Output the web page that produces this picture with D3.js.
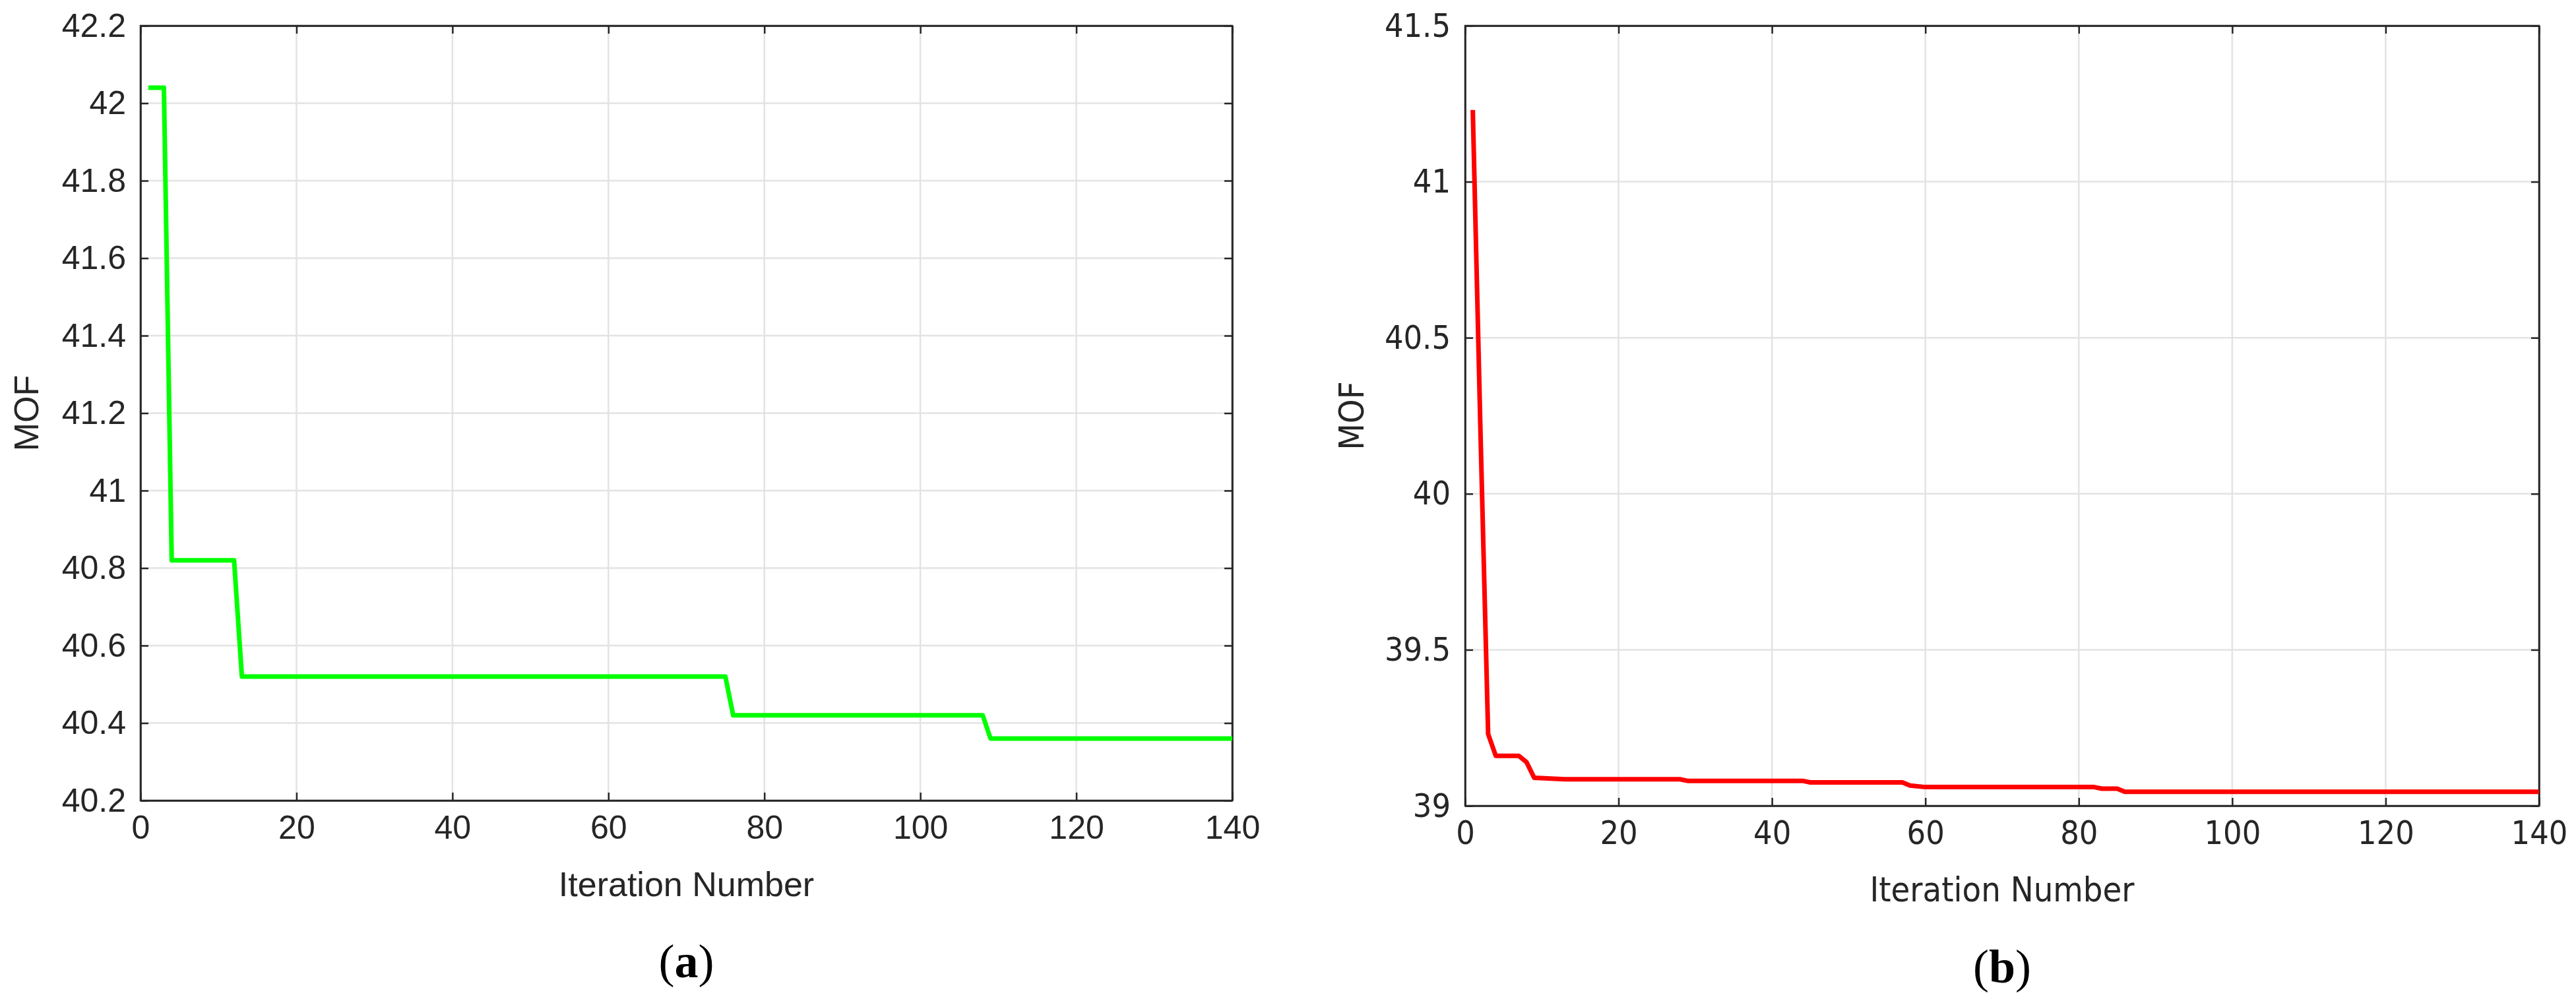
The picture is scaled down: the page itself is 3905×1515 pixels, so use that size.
<!DOCTYPE html>
<html><head><meta charset="utf-8">
<script src="https://cdn.jsdelivr.net/npm/d3@7"></script>
<style>
body{margin:0;background:#fff}
.tick text{fill:#262626}
</style></head>
<body><svg id="c" width="3905" height="1515"></svg>
<script>
// panel (a) – green step curve
var xA = [1, 3, 4, 12, 13, 75, 76, 108, 109, 140];
var yA = [42.04, 42.04, 40.82, 40.82, 40.52, 40.52, 40.42, 40.42, 40.36, 40.36];
// panel (b) – red curve
var xB = [1, 2, 3, 4, 7, 8, 9, 13, 28, 29, 44, 45, 57, 58, 60, 82, 83, 85, 86, 140];
var yB = [41.23, 40.2, 39.23, 39.16, 39.16, 39.14, 39.09, 39.085, 39.085, 39.08, 39.08, 39.075, 39.075, 39.065, 39.06, 39.06, 39.055, 39.055, 39.045, 39.045];
var xTicks = [0, 20, 40, 60, 80, 100, 120, 140];
var yTicksA = [40.2, 40.4, 40.6, 40.8, 41, 41.2, 41.4, 41.6, 41.8, 42, 42.2];
var yTicksB = [39, 39.5, 40, 40.5, 41, 41.5];

var svg = d3.select('#c');
var fmt = d3.format('~g');

function panel(o) {
    var x = d3.scaleLinear().domain([0, 140]).range([o.left, o.right]),
        y = d3.scaleLinear().domain(o.ydom).range([o.bottom, o.top]);
    var g = svg.append('g');

    // grid
    g.selectAll('.gx').data(xTicks).enter().append('line')
        .attr('x1', x).attr('x2', x).attr('y1', o.top).attr('y2', o.bottom)
        .attr('stroke', '#e3e3e3').attr('stroke-width', 2.5);
    g.selectAll('.gy').data(o.yticks).enter().append('line')
        .attr('y1', y).attr('y2', y).attr('x1', o.left).attr('x2', o.right)
        .attr('stroke', '#e3e3e3').attr('stroke-width', 2.5);

    var font = o.font, fs = 50;
    var ax = [
        [d3.axisBottom(x).tickValues(xTicks).tickFormat(fmt).tickSizeInner(-12).tickSizeOuter(0).tickPadding(22), 'translate(0,' + o.bottom + ')', true],
        [d3.axisTop(x).tickValues(xTicks).tickSizeInner(-12).tickSizeOuter(0), 'translate(0,' + o.top + ')', false],
        [d3.axisLeft(y).tickValues(o.yticks).tickFormat(fmt).tickSizeInner(-12).tickSizeOuter(0).tickPadding(22), 'translate(' + o.left + ',0)', true],
        [d3.axisRight(y).tickValues(o.yticks).tickSizeInner(-12).tickSizeOuter(0), 'translate(' + o.right + ',0)', false]
    ];
    ax.forEach(function(a) {
        var ag = g.append('g').attr('transform', a[1]).call(a[0]);
        ag.selectAll('path,line').attr('stroke', '#262626').attr('stroke-width', 2.5);
        ag.selectAll('text').attr('font-family', font).attr('font-size', fs);
        if (!a[2]) ag.selectAll('text').remove();
    });
    g.append('rect').attr('x', o.left).attr('y', o.top)
        .attr('width', o.right - o.left).attr('height', o.bottom - o.top)
        .attr('fill', 'none').attr('stroke', '#262626').attr('stroke-width', 2.5);

    var line = d3.line().x(function(d) { return x(d[0]); }).y(function(d) { return y(d[1]); });
    g.append('path').datum(d3.zip(o.xs, o.ys)).attr('d', line)
        .attr('fill', 'none').attr('stroke', o.color).attr('stroke-width', 7)
        .attr('stroke-linejoin', 'round');

    g.append('text').attr('x', (o.left + o.right) / 2).attr('y', o.bottom + 145)
        .attr('text-anchor', 'middle').attr('font-family', font).attr('font-size', 52)
        .attr('fill', '#262626').text('Iteration Number');
    g.append('text').attr('transform', 'translate(' + o.ylabX + ',' + (o.top + o.bottom) / 2 + ') rotate(-90)')
        .attr('text-anchor', 'middle').attr('font-family', font).attr('font-size', 52)
        .attr('fill', '#262626').text('MOF');
    var cap = g.append('text').attr('x', (o.left + o.right) / 2).attr('y', o.bottom + 268)
        .attr('text-anchor', 'middle').attr('font-family', 'Liberation Serif, serif')
        .attr('font-size', 72).attr('fill', '#000');
    cap.append('tspan').text('(');
    cap.append('tspan').attr('font-weight', 'bold').text(o.cap);
    cap.append('tspan').text(')');
}

panel({left: 213, right: 1868, top: 39, bottom: 1214, ydom: [40.2, 42.2], yticks: yTicksA,
       xs: xA, ys: yA, color: '#00ff00', font: 'Liberation Sans, Arial, sans-serif', ylabX: 58, cap: 'a'});
panel({left: 2221, right: 3849, top: 39, bottom: 1222, ydom: [39, 41.5], yticks: yTicksB,
       xs: xB, ys: yB, color: '#ff0000', font: 'Liberation Sans Narrow, DejaVu Sans Condensed, sans-serif', ylabX: 2067, cap: 'b'});
</script></body></html>
